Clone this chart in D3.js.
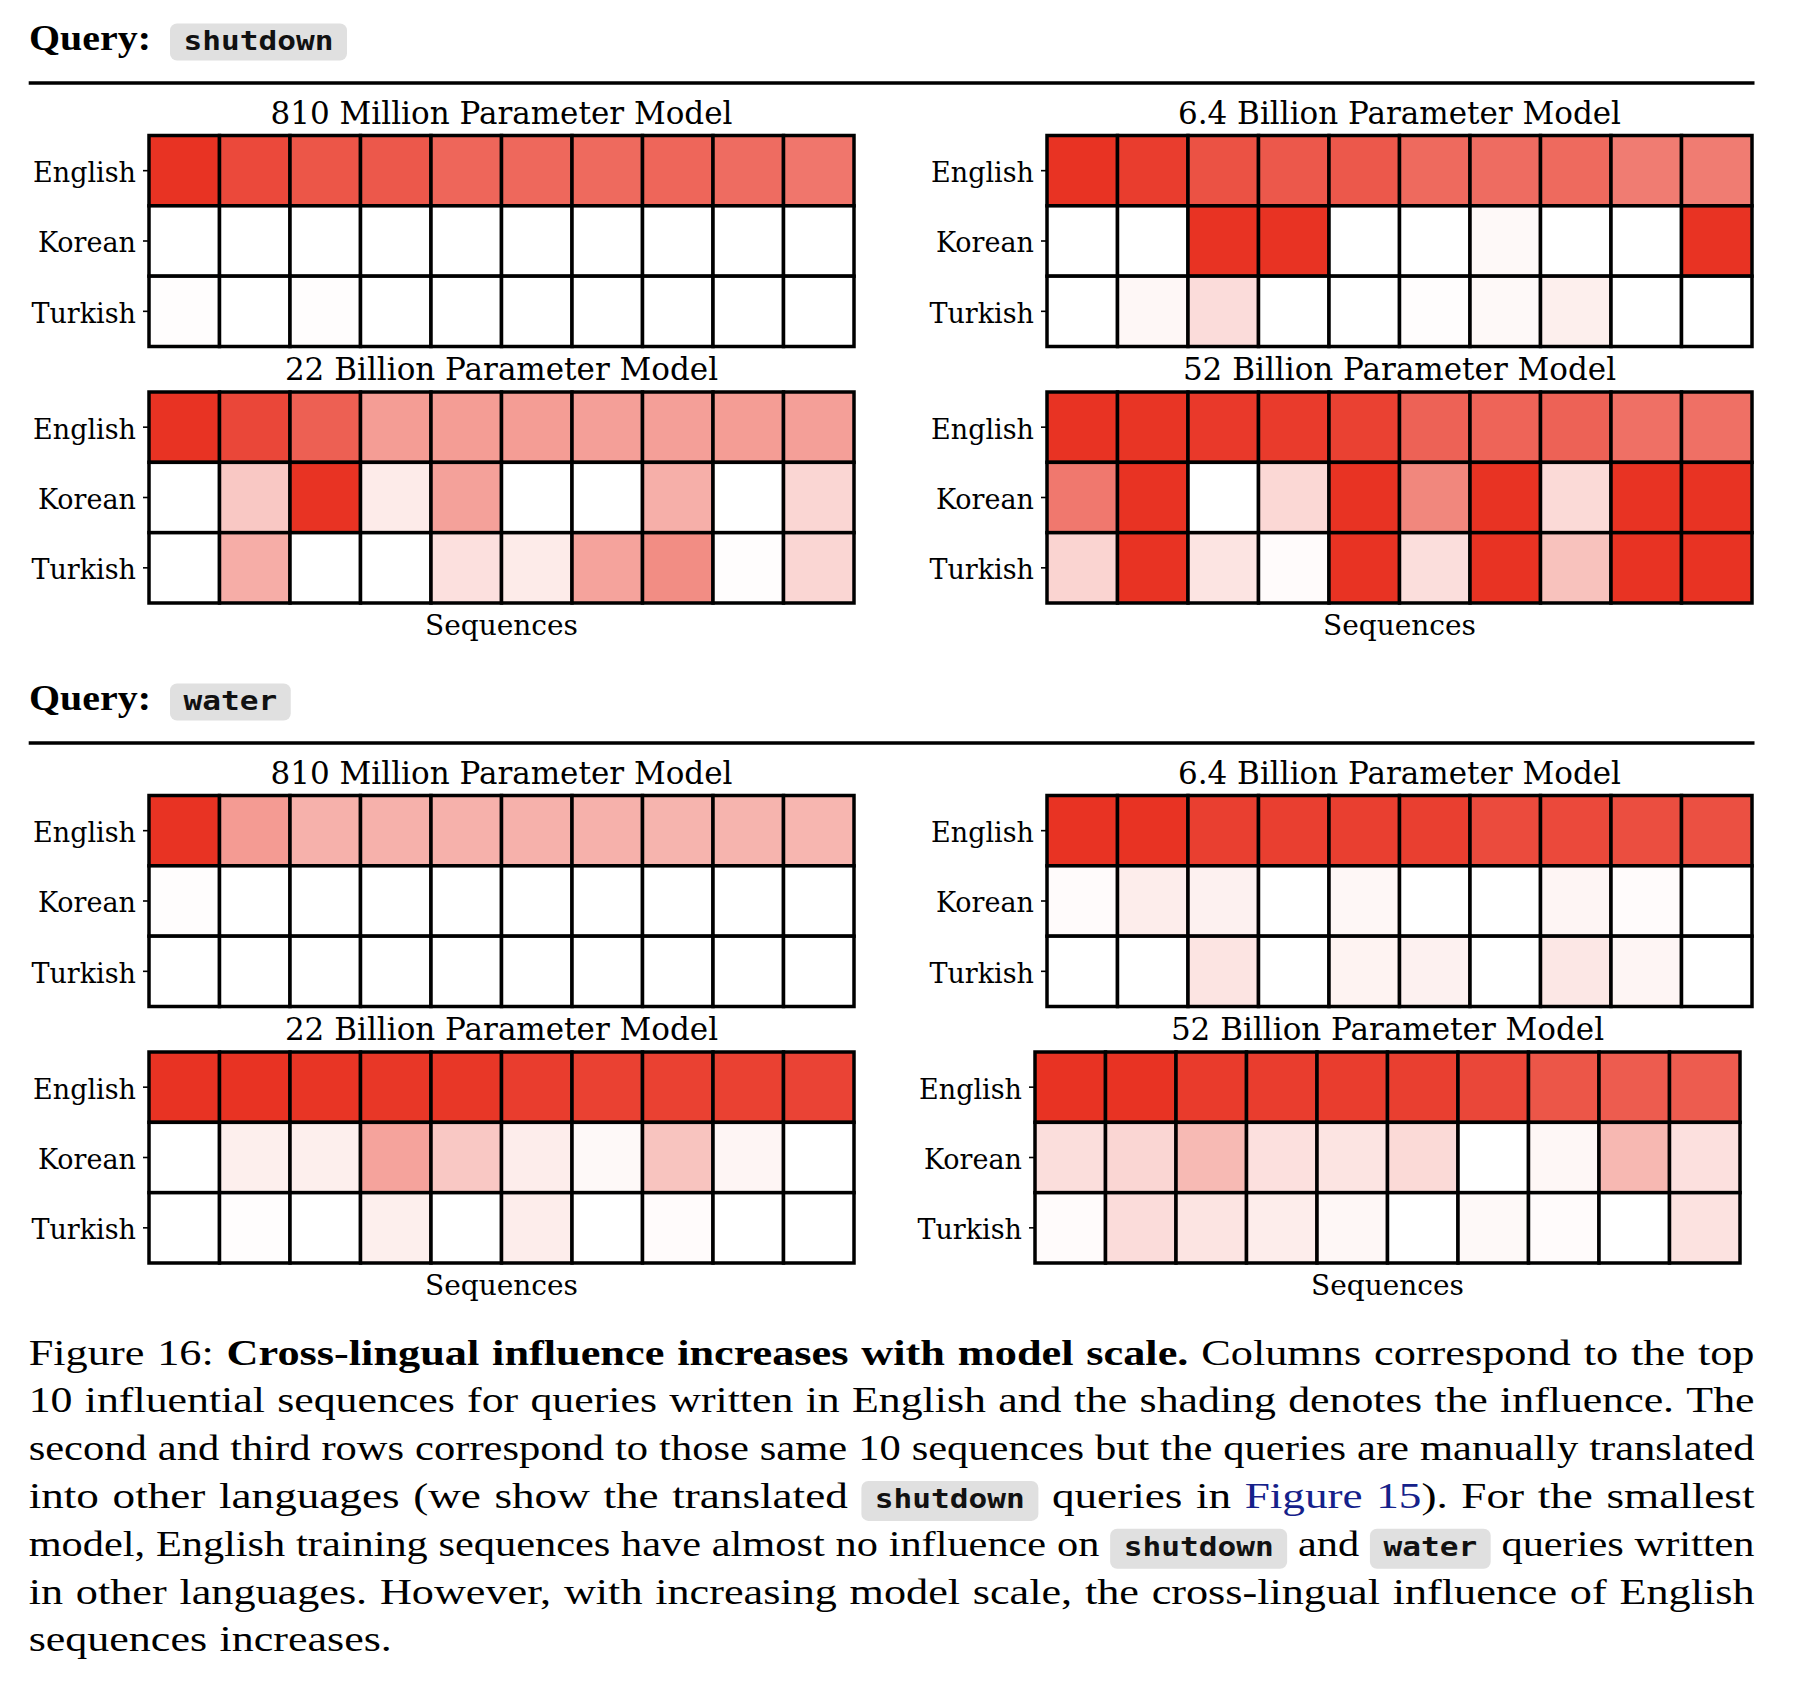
<!DOCTYPE html>
<html><head><meta charset="utf-8">
<script src="https://cdn.jsdelivr.net/npm/d3@7"></script>
<style>body{margin:0;background:#fff}svg{display:block}</style></head>
<body><svg id="fig" width="1798" height="1682"></svg>
<script>
// ---------------- DATA ----------------
const languages = ["English", "Korean", "Turkish"];
const sequences = ["1", "2", "3", "4", "5", "6", "7", "8", "9", "10"];
const modelNames = ["810 Million Parameter Model", "6.4 Billion Parameter Model",
                    "22 Billion Parameter Model", "52 Billion Parameter Model"];
const queries = ["shutdown", "water"];
const xAxisLabel = "Sequences";

// influence shading (0 = none, 1 = max); rows: English, Korean, Turkish
const shutdown810M = [
  [1.00, 0.89, 0.83, 0.82, 0.75, 0.74, 0.73, 0.75, 0.72, 0.67],
  [0, 0, 0, 0, 0, 0, 0, 0, 0, 0],
  [0.01, 0, 0.01, 0, 0, 0, 0, 0, 0, 0]
];
const shutdown6_4B = [
  [1.00, 0.95, 0.85, 0.82, 0.82, 0.73, 0.72, 0.73, 0.64, 0.64],
  [0, 0, 1.00, 1.00, 0, 0, 0.03, 0, 0, 1.00],
  [0, 0.04, 0.17, 0, 0, 0.01, 0.03, 0.08, 0, 0]
];
const shutdown22B = [
  [1.00, 0.90, 0.78, 0.48, 0.48, 0.48, 0.47, 0.47, 0.48, 0.47],
  [0, 0.27, 1.00, 0.10, 0.46, 0, 0, 0.39, 0, 0.20],
  [0, 0.40, 0, 0, 0.15, 0.10, 0.45, 0.56, 0.01, 0.20]
];
const shutdown52B = [
  [1.00, 0.99, 0.97, 0.96, 0.93, 0.77, 0.76, 0.77, 0.70, 0.70],
  [0.66, 1.00, 0, 0.19, 1.00, 0.59, 1.00, 0.18, 1.00, 1.00],
  [0.21, 1.00, 0.13, 0.02, 1.00, 0.16, 1.00, 0.30, 1.00, 1.00]
];
const water810M = [
  [1.00, 0.49, 0.38, 0.38, 0.38, 0.38, 0.38, 0.37, 0.37, 0.36],
  [0.01, 0, 0, 0, 0, 0, 0, 0, 0, 0],
  [0, 0, 0, 0, 0, 0, 0, 0, 0, 0]
];
const water6_4B = [
  [1.00, 1.00, 0.94, 0.94, 0.94, 0.94, 0.88, 0.89, 0.87, 0.86],
  [0.02, 0.09, 0.07, 0, 0.04, 0, 0, 0.05, 0.02, 0],
  [0, 0, 0.13, 0, 0.06, 0.07, 0, 0.12, 0.05, 0]
];
const water22B = [
  [1.00, 1.00, 0.99, 0.98, 0.98, 0.95, 0.93, 0.93, 0.93, 0.92],
  [0, 0.08, 0.08, 0.45, 0.27, 0.09, 0.03, 0.29, 0.05, 0],
  [0, 0.01, 0, 0.08, 0, 0.09, 0, 0.02, 0, 0]
];
const water52B = [
  [1.00, 1.00, 0.96, 0.95, 0.95, 0.94, 0.90, 0.83, 0.80, 0.80],
  [0.16, 0.20, 0.34, 0.15, 0.13, 0.18, 0, 0.04, 0.35, 0.15],
  [0.02, 0.17, 0.13, 0.09, 0.04, 0, 0.03, 0.02, 0, 0.14]
];

const captionLines = [
  [["n", "Figure 16:"], ["b", "Cross-lingual influence increases with model scale."], ["n", "Columns correspond to the top"]],
  [["n", "10 influential sequences for queries written in English and the shading denotes the influence. The"]],
  [["n", "second and third rows correspond to those same 10 sequences but the queries are manually translated"]],
  [["n", "into other languages (we show the translated"], ["c", "shutdown"], ["n", "queries in"], ["l", "Figure 15"], ["n+", "). For the smallest"]],
  [["n", "model, English training sequences have almost no influence on"], ["c", "shutdown"], ["n", "and"], ["c", "water"], ["n", "queries written"]],
  [["n", "in other languages. However, with increasing model scale, the cross-lingual influence of English"]],
  [["n", "sequences increases."]]
];

// ---------------- LAYOUT ----------------
const svg = d3.select("#fig");
svg.append("rect").attr("width", 1798).attr("height", 1682).attr("fill", "#fff");

const SERIF_PLOT = "'DejaVu Serif', serif";
const SERIF_TEXT = "'Liberation Serif', 'Times New Roman', serif";
const MONO = "'DejaVu Sans Mono', 'Liberation Mono', monospace";
const CHAR_W = 18.75;      // advance of a code glyph
const BADGE_PAD = 13.5;

const color = d3.scaleLinear().domain([0, 1]).range(["#ffffff", "#e83323"]).interpolate(d3.interpolateRgb);

const sectionOffset = 660;
const HM_W = 705, HM_H = 211;

const sections = [
  { query: queries[0], data: [shutdown810M, shutdown6_4B, shutdown22B, shutdown52B],
    xs: [149, 1047, 149, 1047] },
  { query: queries[1], data: [water810M, water6_4B, water22B, water52B],
    xs: [149, 1047, 149, 1035] }
];
const rowTops = [135.5, 392];

function codeBadge(g, x, baseline, word, top, h) {
  const w = word.length * CHAR_W + 2 * BADGE_PAD;
  g.append("rect").attr("x", x).attr("y", baseline - top).attr("width", w).attr("height", h)
    .attr("rx", 7).attr("fill", "#e0e0e0");
  g.append("text").attr("x", x + BADGE_PAD).attr("y", baseline)
    .attr("font-family", MONO).attr("font-weight", "bold").attr("font-size", 26)
    .attr("textLength", word.length * CHAR_W).attr("lengthAdjust", "spacingAndGlyphs")
    .attr("fill", "#111").text(word);
  return w;
}

sections.forEach((sec, si) => {
  const oy = si * sectionOffset;
  const hg = svg.append("g").attr("transform", `translate(0,${oy})`);
  hg.append("text").attr("x", 29).attr("y", 50)
    .attr("font-family", SERIF_TEXT).attr("font-weight", "bold").attr("font-size", 35)
    .attr("textLength", 122).attr("lengthAdjust", "spacingAndGlyphs").text("Query:");
  codeBadge(hg, 170, 50, sec.query, 26.5, 37);
  hg.append("line").attr("x1", 28.7).attr("x2", 1754.5).attr("y1", 83).attr("y2", 83)
    .attr("stroke", "#000").attr("stroke-width", 3.5);

  sec.data.forEach((mat, pi) => {
    const x0 = sec.xs[pi];
    const y0 = oy + rowTops[Math.floor(pi / 2)];
    const g = svg.append("g").attr("transform", `translate(${x0},${y0})`);
    const x = d3.scaleBand().domain(sequences).range([0, HM_W]);
    const y = d3.scaleBand().domain(languages).range([0, HM_H]);
    const cells = [];
    languages.forEach((lang, r) => sequences.forEach((s, c) => cells.push({ lang, s, v: mat[r][c] })));
    g.selectAll("rect.cell").data(cells).join("rect").attr("class", "cell")
      .attr("x", d => x(d.s)).attr("y", d => y(d.lang))
      .attr("width", x.bandwidth()).attr("height", y.bandwidth())
      .attr("fill", d => color(d.v)).attr("stroke", "#000").attr("stroke-width", 3.5);
    const ax = g.append("g").call(d3.axisLeft(y).tickSize(6).tickPadding(7));
    ax.select(".domain").remove();
    ax.attr("font-family", SERIF_PLOT).attr("font-size", 27);
    ax.selectAll("text").attr("fill", "#000").attr("dy", "0.42em");
    ax.selectAll("line").attr("stroke", "#000").attr("stroke-width", 1.6);
    g.append("text").attr("x", HM_W / 2).attr("y", -12).attr("text-anchor", "middle")
      .attr("font-family", SERIF_PLOT).attr("font-size", 31).text(modelNames[pi]);
    if (pi >= 2) {
      g.append("text").attr("x", HM_W / 2).attr("y", HM_H + 32).attr("text-anchor", "middle")
        .attr("font-family", SERIF_PLOT).attr("font-size", 28).text(xAxisLabel);
    }
  });
});

// ---------------- CAPTION ----------------
const CAP_SIZE = 35, CAP_X0 = 28.7, CAP_X1 = 1754.5, CAP_Y0 = 1364.5, CAP_LH = 47.8;
const meas = svg.append("text").attr("font-family", SERIF_TEXT).attr("font-size", CAP_SIZE);
function measure(t, bold) {
  meas.attr("font-weight", bold ? "bold" : "normal").text(t);
  return meas.node().getComputedTextLength();
}
const lines = captionLines.map(segs => {
  const toks = [];
  segs.forEach(([st, txt]) => {
    if (st === "c") { toks.push({ st, txt, nb: false, w: txt.length * CHAR_W + 2 * BADGE_PAD, fixed: true }); return; }
    const words = txt.split(" ");
    words.forEach((wd, i) => {
      const s = st.replace("+", "");
      toks.push({ st: s, txt: wd, nb: (st === "n+" && i === 0), w: measure(wd, s === "b"), fixed: false });
    });
  });
  return toks;
});
meas.remove();
const GAP = 12.5;
const W = CAP_X1 - CAP_X0;
const fs = lines.slice(0, 6).map(toks => {
  const gaps = toks.filter((t, i) => i > 0 && !t.nb).length;
  const fixed = d3.sum(toks.filter(t => t.fixed), t => t.w);
  const txt = d3.sum(toks.filter(t => !t.fixed), t => t.w);
  return (W - fixed - gaps * GAP) / txt;
});
const F = d3.median(fs);
lines.forEach((toks, li) => {
  const base = CAP_Y0 + li * CAP_LH;
  const Fl = li < 6 ? F + 0.7 * (fs[li] - F) : F;
  const widths = toks.map(t => t.fixed ? t.w : t.w * Fl);
  const gaps = toks.filter((t, i) => i > 0 && !t.nb).length;
  const gap = li < 6 ? (W - d3.sum(widths)) / gaps : GAP;
  let x = CAP_X0;
  toks.forEach((t, i) => {
    if (i > 0 && !t.nb) x += gap;
    if (t.st === "c") {
      codeBadge(svg, x, base, t.txt, 27, 40);
    } else {
      svg.append("text").attr("x", x).attr("y", base)
        .attr("font-family", SERIF_TEXT).attr("font-size", CAP_SIZE)
        .attr("font-weight", t.st === "b" ? "bold" : "normal")
        .attr("fill", t.st === "l" ? "#15218a" : "#000")
        .attr("textLength", widths[i]).attr("lengthAdjust", "spacingAndGlyphs")
        .text(t.txt);
    }
    x += widths[i];
  });
});
</script>
</body></html>
